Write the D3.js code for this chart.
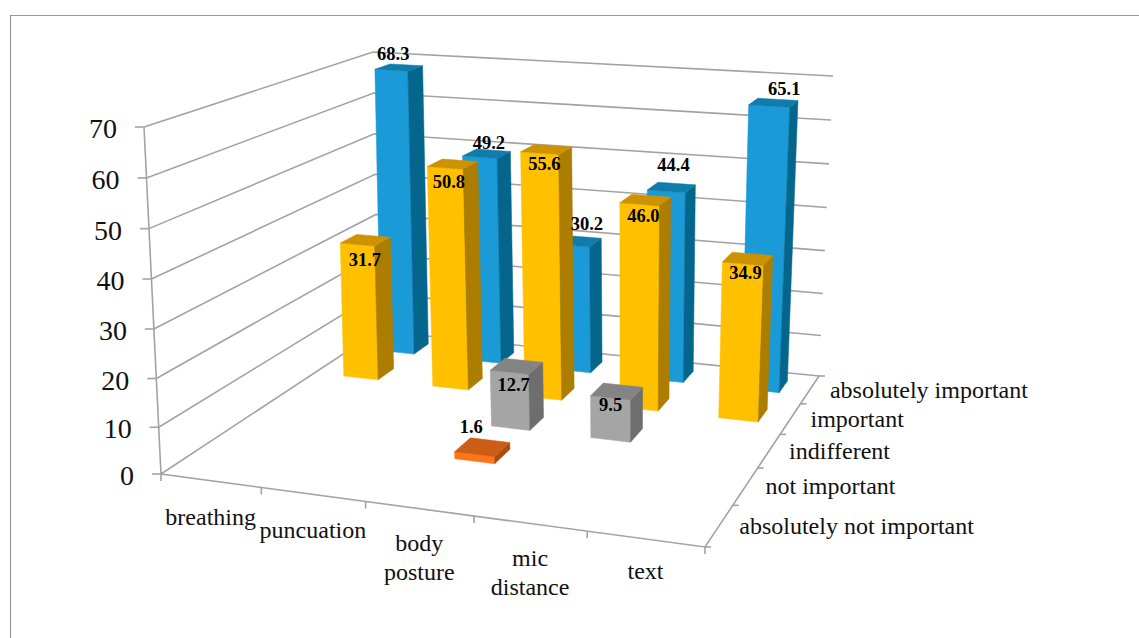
<!DOCTYPE html>
<html><head>
<meta charset="utf-8">
<title>Importance ratings</title>
<script src="https://d3js.org/d3.v7.min.js"></script>
<style>
  html, body { margin: 0; background: #fff; }
  svg { display: block; }
  text { font-family: "Liberation Serif", serif; fill: #111; }
  .grid { fill: none; stroke: #a3a3a3; stroke-width: 1.6px; }
  .axisLabel { font-size: 24px; }
  .valueLabel { font-size: 18.5px; font-weight: bold; fill: #000; text-anchor: middle; }
</style>
</head>
<body>
<svg id="chart" width="1139" height="638"></svg>
<script>
const categories = ["breathing", "puncuation", "body posture", "mic distance", "text"];
// front row to back row
const seriesNames = ["absolutely not important", "not important", "indifferent", "important", "absolutely important"];
const absNotImportant = [null, null, null, null, null];
const notImportant = [null, null, 1.6, null, null];
const indifferent = [null, null, 12.7, 9.5, null];
const important = [31.7, 50.8, 55.6, 46.0, 34.9];
const absImportant = [68.3, 49.2, 30.2, 44.4, 65.1];
const yTicks = [0, 10, 20, 30, 40, 50, 60, 70];

const allSeries = [absNotImportant, notImportant, indifferent, important, absImportant];
// front, side, top of the bars
const colors = [
  ["#5b9bd5", "#3a6f9e", "#4a85b8"],
  ["#ff7519", "#a94c10", "#cc5d14"],
  ["#a5a5a5", "#6e6e6e", "#848484"],
  ["#ffc000", "#ad7d00", "#cc9200"],
  ["#1a9bd7", "#05668d", "#0f7cab"]
];
// labels of the two thin series and the back row were moved by hand in the original
const labelBase = [0, -14, 23, 23, -14];
const labelNudge = {
  "68.3": [-3, 7], "49.2": [5, 9.5], "30.2": [12, 3], "44.4": [5, -2], "65.1": [14, 7],
  "31.7": [2, 3], "50.8": [-1, 1.5], "55.6": [1, -2.5], "46": [1, -1], "34.9": [1, -3],
  "12.7": [0, 2], "9.5": [-3, -3.5], "1.6": [-8, 0]
};
// drop of the first category label line below the axis
const catDrop = [44, 44, 42, 42, 40];

const svg = d3.select("#chart");

// Corners of the plot box on screen: front-left, front-right, back-right, back-left
const floorCorners = [[161, 474], [705, 547], [819, 376], [378, 331]];
const topCorners = [[144, 127], [717, 174], [833, 76], [373, 52]];

// Maps the unit square onto a four sided shape, so the box keeps its perspective
const makeHomography = function(q) {
  const [[x0, y0], [x1, y1], [x2, y2], [x3, y3]] = q;
  const dx1 = x1 - x2, dx2 = x3 - x2, sx = x0 - x1 + x2 - x3;
  const dy1 = y1 - y2, dy2 = y3 - y2, sy = y0 - y1 + y2 - y3;
  const den = dx1 * dy2 - dx2 * dy1;
  const g = (sx * dy2 - dx2 * sy) / den;
  const h = (dx1 * sy - sx * dy1) / den;
  const a = x1 - x0 + g * x1, b = x3 - x0 + h * x3;
  const d = y1 - y0 + g * y1, e = y3 - y0 + h * y3;
  return (u, w) => {
    const k = g * u + h * w + 1;
    return [(a * u + b * w + x0) / k, (d * u + e * w + y0) / k];
  };
};
const floorH = makeHomography(floorCorners);
const topH = makeHomography(topCorners);

// Gridlines open up a little towards the top, the power scale follows that
const yScale = d3.scalePow().exponent(1.03).domain([0, 70]).range([0, 1]);
const xStep = d3.scaleBand().domain(categories).range([0, 1]);
const zStep = d3.scaleBand().domain(seriesNames).range([0, 1]);
const xBar = d3.scaleBand().domain(categories).range([0, 1]).paddingInner(0.61).paddingOuter(0.305).align(0.55);
const zBar = d3.scaleBand().domain(seriesNames).range([0, 1]).paddingInner(0.58).paddingOuter(0.29);

// u along categories, value in chart units, w towards the back
const project = function(u, value, w) {
  const f = floorH(u, w), t = topH(u, w), k = yScale(value);
  return [f[0] + (t[0] - f[0]) * k, f[1] + (t[1] - f[1]) * k];
};
const polyLine = d3.line();

// Border of the figure, open to the right and below
svg.append("path").attr("d", "M10.5,638V15.5H1139").attr("fill", "none").attr("stroke", "#999").attr("stroke-width", 1.2);

// Walls and floor
svg.selectAll("path.wall").data(yTicks).join("path")
  .attr("class", "grid wall")
  .attr("d", v => polyLine([project(0, v, 0), project(0, v, 1), project(1, v, 1)]));
svg.append("path").attr("class", "grid")
  .attr("d", polyLine([project(0, 70, 0), project(0, 0, 0), project(1, 0, 0), project(1, 0, 1)]));

// Ticks
svg.selectAll("path.yTick").data(yTicks).join("path")
  .attr("class", "grid yTick")
  .attr("d", v => { const p = project(0, v, 0); return polyLine([[p[0] - 9, p[1]], p]); });
svg.selectAll("path.xTick").data(d3.range(categories.length + 1)).join("path")
  .attr("class", "grid xTick")
  .attr("d", i => { const p = project(i / categories.length, 0, 0); return polyLine([p, [p[0], p[1] + 7]]); });
svg.selectAll("path.zTick").data(d3.range(seriesNames.length + 1)).join("path")
  .attr("class", "grid zTick")
  .attr("d", i => { const p = project(1, 0, i / seriesNames.length); return polyLine([p, [p[0] + 6, p[1]]]); });

// Bars, back row first so nearer bars cover them
const bars = [];
seriesNames.forEach((s, row) => {
  categories.forEach((c, col) => {
    const value = allSeries[row][col];
    if (value !== null) bars.push({ s, c, row, value });
  });
});
bars.sort((a, b) => b.row - a.row);

const barGroups = svg.selectAll("g.bar").data(bars).join("g").attr("class", "bar");
barGroups.each(function(d) {
  const u0 = xBar(d.c), u1 = u0 + xBar.bandwidth();
  const w0 = zBar(d.s), w1 = w0 + zBar.bandwidth();
  const v = d.value;
  const faces = [
    [[u0, 0, w0], [u1, 0, w0], [u1, v, w0], [u0, v, w0]],
    [[u1, 0, w0], [u1, 0, w1], [u1, v, w1], [u1, v, w0]],
    [[u0, v, w0], [u1, v, w0], [u1, v, w1], [u0, v, w1]]
  ];
  d3.select(this).selectAll("path").data(faces).join("path")
    .attr("d", f => polyLine(f.map(p => project(p[0], p[1], p[2]))) + "Z")
    .attr("fill", (f, i) => colors[d.row][i])
    .attr("stroke", (f, i) => colors[d.row][i])
    .attr("stroke-width", 0.5);
});

// Value labels go on top of everything
const labelPos = function(d) {
  const p = project(xStep(d.c) + xStep.bandwidth() / 2, d.value, zStep(d.s) + zStep.bandwidth() / 2);
  const n = labelNudge[String(d.value)];
  return [p[0] + n[0], p[1] + labelBase[d.row] + n[1]];
};
svg.selectAll("text.valueLabel").data(bars).join("text")
  .attr("class", "valueLabel")
  .attr("x", d => labelPos(d)[0])
  .attr("y", d => labelPos(d)[1])
  .text(d => d.value.toFixed(1));

// Value axis labels
svg.selectAll("text.yLabel").data(yTicks).join("text")
  .attr("class", "yLabel")
  .attr("text-anchor", "end")
  .attr("font-size", "28px")
  .attr("x", v => project(0, v, 0)[0] - 27)
  .attr("y", v => project(0, v, 0)[1] + 11)
  .text(v => v);

// Category labels, two lines where there is a space
const catLabels = svg.selectAll("text.catLabel").data(categories).join("text")
  .attr("class", "catLabel axisLabel")
  .attr("text-anchor", "middle");
catLabels.each(function(c, k) {
  const p = project(xStep(c) + xStep.bandwidth() / 2, 0, 0);
  d3.select(this).selectAll("tspan").data(c.split(" ")).join("tspan")
    .attr("x", p[0])
    .attr("y", (t, i) => p[1] + catDrop[k] + i * 29)
    .text(t => t);
});

// Series labels along the right edge of the floor
svg.selectAll("text.seriesLabel").data(seriesNames).join("text")
  .attr("class", "seriesLabel axisLabel")
  .attr("x", s => project(1, 0, zStep(s) + zStep.bandwidth() / 2)[0] + 20)
  .attr("y", s => project(1, 0, zStep(s) + zStep.bandwidth() / 2)[1] + 8)
  .text(s => s);
</script>
</body></html>
